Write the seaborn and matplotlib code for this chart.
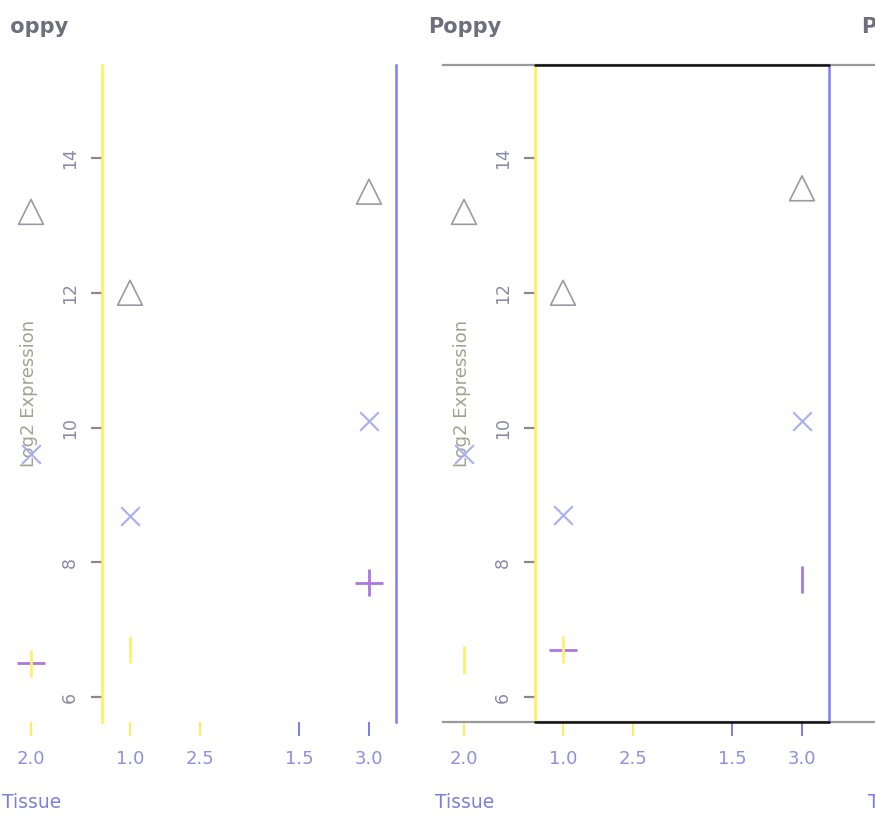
import matplotlib
matplotlib.use("Agg")
import matplotlib.pyplot as plt
from matplotlib.transforms import Bbox
import seaborn as sns
import pandas as pd

# ---------------- data ----------------
tissues = ["2.0", "1.0", "3.0"]
tick_labels = ["2.0", "1.0", "2.5", "1.5", "3.0"]
panel_titles = ["Poppy", "Poppy", "Poppy"]

# panel 1 (left, partly cropped)
p1_triangle = [13.2, 12.0, 13.5]
p1_cross = [9.6, 8.68, 10.1]
p1_low = [6.5, 6.7, 7.7]
p1_low_style = ["plus_py", "bar_y", "plus_p"]

# panel 2 (middle)
p2_triangle = [13.2, 12.0, 13.55]
p2_cross = [9.6, 8.7, 10.1]
p2_low = [6.55, 6.7, 7.75]
p2_low_style = ["bar_y", "plus_py", "bar_p"]

# panel 3 (right, off canvas except title)
p3_triangle = p2_triangle
p3_cross = p2_cross
p3_low = p2_low
p3_low_style = p2_low_style

y_ticks = [6, 8, 10, 12, 14]

# ---------------- layout / style ----------------
tick_pos = [0.0, 1.0, 1.707, 2.707, 3.414]
tick_cols = ["#ffee55", "#ffee55", "#ffee55", "#7b7bf5", "#7b7bf5"]
YELLOW = "#fff06a"
BLUE = "#7e7ef8"
PURPLE = "#ab78e0"
XBLUE = "#a9adf2"
TRI = "#9a9aa6"

W, H = 875, 816
ax_w_px = 432
bottom_px, top_px = 722, 65
xlim = (-21 / 99, (ax_w_px - 21) / 99)
ylim = (5.63, 15.38)
lspine, rspine = 0.72, 3.69

sns.set_theme(style="white")
plt.rcParams["font.family"] = ["DejaVu Sans"]

fig = plt.figure(figsize=(W / 100, H / 100), dpi=100)
lefts_px = [10, 443, 876]

panels = [
    (p1_triangle, p1_cross, p1_low, p1_low_style),
    (p2_triangle, p2_cross, p2_low, p2_low_style),
    (p3_triangle, p3_cross, p3_low, p3_low_style),
]


def xpos(t):
    return tick_pos[tick_labels.index(t)]


for i, (lp, (tri, crs, low, lstyle)) in enumerate(zip(lefts_px, panels)):
    ax = fig.add_axes([lp / W, (H - bottom_px) / H, ax_w_px / W,
                       (bottom_px - top_px) / H])
    ax.set_facecolor("white")
    xs = [xpos(t) for t in tissues]
    df_tri = pd.DataFrame({"x": xs, "y": tri})
    df_crs = pd.DataFrame({"x": xs, "y": crs})
    df_low = pd.DataFrame({"x": xs, "y": low, "style": lstyle})

    sns.scatterplot(data=df_tri, x="x", y="y", ax=ax, marker="^", s=320,
                    facecolor="none", edgecolor=TRI, linewidth=1.2,
                    clip_on=False, legend=False)
    sns.scatterplot(data=df_crs, x="x", y="y", ax=ax, marker="x", s=180,
                    color=XBLUE, linewidth=1.5, clip_on=False, legend=False)
    h = df_low[df_low["style"].isin(["plus_py", "plus_p"])]
    sns.scatterplot(data=h, x="x", y="y", ax=ax, marker="_", s=380,
                    color=PURPLE, linewidth=2.0, clip_on=False, legend=False)
    v = df_low.copy()
    v["col"] = v["style"].map({"plus_py": "y", "bar_y": "y",
                               "plus_p": "p", "bar_p": "p"})
    sns.scatterplot(data=v, x="x", y="y", ax=ax, marker="|", s=380,
                    hue="col", palette={"y": YELLOW, "p": PURPLE},
                    linewidth=2.0, clip_on=False, legend=False)

    ax.set_xlim(*xlim)
    ax.set_ylim(*ylim)
    ax.set_xticks(tick_pos, tick_labels)
    ax.set_yticks(y_ticks, [str(t) for t in y_ticks])

    ax.spines["left"].set_position(("data", lspine))
    ax.spines["left"].set_color("#fff04a")
    ax.spines["left"].set_linewidth(1.8)
    ax.spines["right"].set_visible(True)
    ax.spines["right"].set_position(("data", rspine))
    ax.spines["right"].set_color(BLUE)
    ax.spines["right"].set_linewidth(1.8)
    ax.yaxis.set_ticks_position("left")
    ax.xaxis.set_ticks_position("bottom")

    if i == 0:
        ax.spines["top"].set_visible(False)
        ax.spines["bottom"].set_visible(False)
    else:
        for s in ["top", "bottom"]:
            ax.spines[s].set_visible(True)
            ax.spines[s].set_color("#9a9a9a")
            ax.spines[s].set_linewidth(1.6)
        f0 = (lspine - xlim[0]) / (xlim[1] - xlim[0])
        f1 = (rspine - xlim[0]) / (xlim[1] - xlim[0])
        for yy in ylim:
            ax.axhline(yy, f0, f1, color="#111111", lw=1.8, clip_on=False,
                       zorder=5)

    ax.tick_params(axis="y", length=8, width=1.6, color="#8a8a8a",
                   labelsize=12.5, labelcolor="#8a8aa8", pad=9,
                   labelrotation=90, left=True)
    for lab in ax.get_yticklabels():
        lab.set_va("center")
    ax.tick_params(axis="x", length=10, width=1.4, labelsize=13,
                   labelcolor="#8d8fe0", pad=10, bottom=True)
    for t, c in zip(ax.xaxis.get_major_ticks(), tick_cols):
        t.tick1line.set_markeredgecolor(c)
        t.tick1line.set_color(c)

    title = ax.set_title(panel_titles[i], loc="left", x=-15 / ax_w_px,
                         pad=23, fontsize=15, fontweight="bold",
                         color="#6e6e7c")
    if i == 0:
        # the left panel's title is cropped by the picture's left edge
        title.set_clip_box(Bbox([[11, 0], [W, H]]))
        title.set_clip_on(True)
    ax.set_ylabel("Log2 Expression", fontsize=13, color="#a3a28c")
    ax.yaxis.set_label_coords(19 / ax_w_px, 0.5)
    ax.yaxis.label.set_va("center")
    ax.set_xlabel("Tissue", fontsize=13.5, color="#7d7fd8")
    ax.xaxis.set_label_coords(-8 / ax_w_px, -81 / (bottom_px - top_px))
    ax.xaxis.label.set_ha("left")
    ax.xaxis.label.set_va("center")

fig.savefig("out.png", dpi=100)
